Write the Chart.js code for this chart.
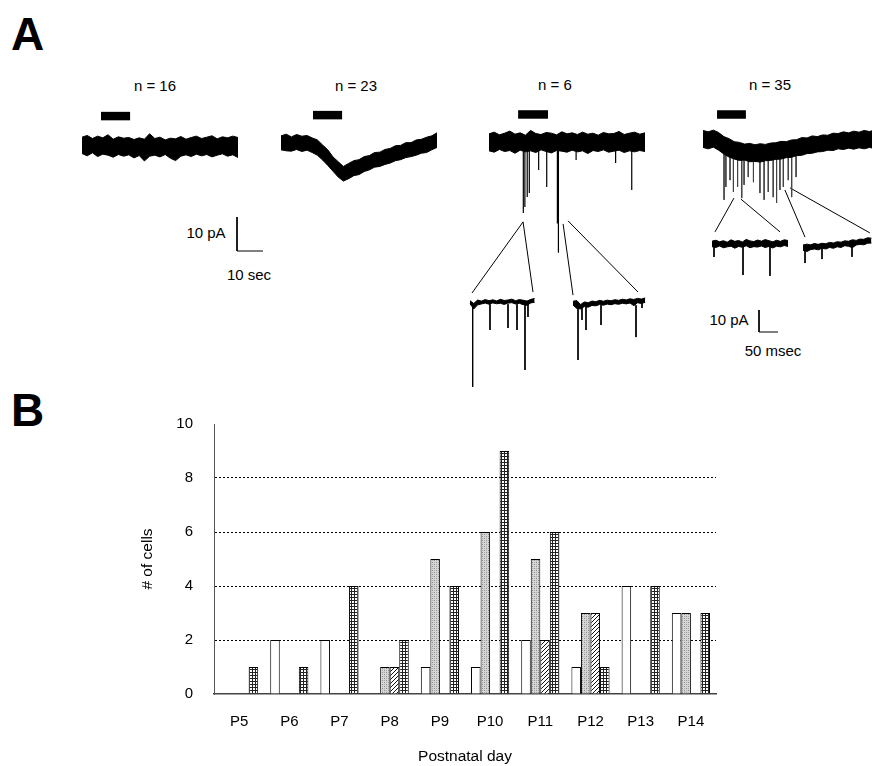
<!DOCTYPE html>
<html>
<head>
<meta charset="utf-8">
<script src="https://cdn.jsdelivr.net/npm/chart.js@4.4.1/dist/chart.umd.min.js"></script>
<style>
  html, body { margin: 0; padding: 0; background: #fff; }
  body { width: 872px; height: 766px; position: relative; overflow: hidden;
         font-family: "Liberation Sans", Arial, sans-serif; color: #000; }
  canvas { position: absolute; left: 0; }
  #traces { top: 0; }
  #counts { top: 390px; }
  .lbl { position: absolute; transform: translate(-50%, -50%); font-size: 15px; font-weight: normal; line-height: 1; white-space: nowrap; }
  .panel { position: absolute; font-weight: bold; font-size: 46px; line-height: 1; }
</style>
</head>
<body>
<div class="panel" style="left:11px;top:11px">A</div>
<div class="panel" style="left:11px;top:387px">B</div>
<div class="lbl" style="left:155px;top:85px">n = 16</div>
<div class="lbl" style="left:356px;top:85px">n = 23</div>
<div class="lbl" style="left:555px;top:84px">n = 6</div>
<div class="lbl" style="left:770px;top:84px">n = 35</div>
<div class="lbl" style="left:206px;top:232px">10 pA</div>
<div class="lbl" style="left:249px;top:274px">10 sec</div>
<div class="lbl" style="left:729px;top:319px">10 pA</div>
<div class="lbl" style="left:773px;top:350px">50 msec</div>
<canvas id="traces" width="872" height="392"></canvas>
<canvas id="counts" width="872" height="376"></canvas>
<script>
// ---- panel B data: number of cells per postnatal day, by response type ----
var days = ['P5', 'P6', 'P7', 'P8', 'P9', 'P10', 'P11', 'P12', 'P13', 'P14'];
var noResponse = [0, 2, 2, 0, 1, 1, 2, 1, 4, 3];   // n = 16
var slowCurrent = [0, 0, 0, 1, 5, 6, 5, 3, 0, 3];  // n = 23
var eventsOnly = [0, 0, 0, 1, 0, 0, 2, 3, 0, 0];   // n = 6
var bothTypes = [1, 1, 4, 2, 4, 9, 6, 1, 4, 3];    // n = 35
var yTicks = [0, 2, 4, 6, 8, 10];

// ---- panel A data: currents in pA, time in s (main) or ms (insets) ----
var t60 = [0, 2, 4, 6, 8, 10, 12, 14, 16, 18, 20, 22, 24, 26, 28, 30, 32, 34, 36, 38, 40, 42, 44, 46, 48, 50, 52, 54, 56, 58, 60];
var t66 = [0, 2, 4, 6, 8, 10, 12, 14, 16, 18, 20, 22, 24, 26, 28, 30, 32, 34, 36, 38, 40, 42, 44, 46, 48, 50, 52, 54, 56, 58, 60, 62, 64, 66];

var noneUpper = [2.6, 3.1, 2.2, 2.9, 2.4, 3.3, 2.0, 2.7, 2.3, 2.5, 1.9, 2.4, 2.0, 3.6, 2.2, 2.6, 1.8, 2.3, 2.1, 2.8, 2.0, 2.5, 2.9, 2.2, 2.6, 3.0, 2.1, 2.7, 2.4, 2.9, 2.5];
var noneLower = [-2.2, -2.9, -2.0, -3.1, -2.4, -2.7, -3.3, -2.5, -3.0, -2.6, -3.5, -2.8, -4.4, -3.0, -2.7, -3.2, -2.5, -3.6, -4.3, -3.0, -2.6, -3.1, -2.4, -2.9, -2.5, -3.2, -2.7, -2.3, -3.0, -2.6, -3.4];

var slowUpper = [2.1, 2.6, 1.8, 2.5, 2.0, 2.2, 1.5, 0.9, -0.6, -2.0, -4.1, -5.5, -6.9, -6.0, -5.2, -4.9, -4.0, -3.7, -2.8, -2.7, -1.9, -1.6, -0.8, -0.7, 0.1, 0.1, 0.9, 1.1, 1.7, 2.1, 3.0];
var slowLower = [-2.0, -2.3, -2.4, -1.9, -2.5, -2.1, -2.8, -3.6, -5.0, -6.6, -8.3, -10.0, -11.2, -10.5, -9.6, -9.3, -8.4, -7.9, -7.1, -6.9, -6.3, -5.9, -5.2, -4.9, -4.3, -4.0, -3.6, -3.0, -2.8, -2.0, -1.3];

var eventsUpper = [2.4, 2.9, 2.1, 2.6, 3.2, 2.3, 2.7, 2.0, 3.4, 2.5, 2.2, 2.8, 2.6, 2.1, 3.0, 2.4, 2.7, 2.2, 2.9, 2.3, 2.6, 2.0, 2.8, 2.4, 2.5, 3.1, 2.2, 2.6, 2.9, 2.3, 2.7];
var eventsLower = [-2.6, -3.0, -2.2, -2.8, -2.5, -3.3, -2.4, -2.9, -2.6, -3.1, -2.3, -2.8, -3.2, -2.5, -2.7, -3.0, -2.4, -2.9, -2.6, -3.4, -2.5, -2.8, -2.3, -3.0, -2.7, -2.4, -3.1, -2.6, -2.9, -2.5, -2.8];
// [time s, from pA, peak pA]
var eventsSpikes = [[13.2, -2.5, -20.9], [13.8, -2.5, -19.1], [14.7, -2.5, -16.2], [15.5, -2.5, -15.0], [19.1, -2.5, -8.2],
  [22.2, -2.5, -13.2], [26.3, -2.5, -24.0], [26.7, -2.5, -32.6], [33.5, -2.5, -5.3], [48.7, -2.5, -6.2], [54.9, -2.5, -14.1]];

var bothUpper = [2.8, 2.4, 2.9, 2.2, 1.0, 0.4, -0.5, -0.7, -1.2, -1.0, -1.4, -1.1, -1.3, -0.9, -0.8, -0.4, -0.5, 0.0, 0.1, 0.7, 0.6, 1.2, 1.0, 1.5, 1.4, 2.0, 1.9, 2.4, 2.1, 2.6, 2.3, 2.8, 2.5, 2.9];
var bothLower = [-2.2, -2.6, -2.1, -3.0, -4.1, -5.0, -5.6, -6.0, -5.9, -6.4, -6.3, -6.5, -6.1, -6.0, -5.7, -5.6, -5.2, -5.1, -4.6, -4.5, -4.0, -3.9, -3.5, -3.4, -3.0, -3.1, -2.6, -2.8, -2.4, -2.7, -2.3, -2.6, -2.2, -2.5];
var bothSpikes = [[8.1, -4, -17.6], [8.8, -4, -13.8], [10.4, -4, -11.8], [11.7, -4, -15.3], [13.3, -4, -13.8], [14.9, -4, -17.1],
  [15.8, -4, -13.2], [17.4, -4, -10.9], [19.4, -4, -12.4], [21.9, -4, -15.6], [23.5, -4, -17.6], [25.1, -4, -15.3],
  [27.0, -4, -16.8], [28.3, -4, -18.5], [29.6, -4, -14.7], [30.9, -4, -13.8], [32.8, -4, -11.8], [34.1, -4, -16.8], [35.8, -4, -10.9]];

// insets, ms
var i1Time = [0, 10, 20, 30, 40, 50, 60, 70, 80, 90, 100, 110, 120, 130, 140, 150, 160, 170];
var i1Upper = [0.6, -0.7, 0.9, 0.4, 1.1, 0.6, 1.0, 0.5, 1.2, 0.7, 0.9, 1.3, 0.6, 1.1, 0.8, 0.4, 1.2, 1.6];
var i1Lower = [-0.8, -3.2, -1.3, -0.9, -0.5, -1.0, -0.4, -0.8, -0.6, -1.1, -0.5, -0.3, -0.9, -0.6, -1.2, -1.5, -0.4, -0.1];
var i1Spikes = [[7, -1, -38.6], [52.6, -1, -12.7], [100, -1, -11.8], [123.7, -1, -12.7], [144.7, -1, -30.9], [152.6, -1, -6.8]];

var i2Time = [0, 10, 20, 30, 40, 50, 60, 70, 80, 90, 100, 110, 120, 130, 140, 150, 160, 170, 180, 190];
var i2Upper = [0.8, 1.1, -0.7, 0.5, 0.1, 0.9, 0.6, 1.2, 0.8, 1.3, 1.0, 1.5, 1.2, 1.7, 1.4, 1.9, 1.6, 2.1, 1.8, 2.3];
var i2Lower = [-0.9, -2.5, -2.7, -1.6, -1.9, -1.1, -1.3, -0.7, -1.0, -0.5, -0.8, -0.3, -0.6, -0.1, -0.4, 0.0, -1.2, 0.1, -0.2, 0.3];
var i2Spikes = [[13.2, -1, -25.9], [23.7, -1, -7.7], [34.2, -1, -12.3], [73.7, -1, -10], [165.8, -1, -15.5], [181.6, 0, -2.3]];

var i3Time = [0, 10, 20, 30, 40, 50, 60, 70, 80, 90, 100, 110, 120, 130, 140, 150, 160, 170, 180, 190, 200];
var i3Upper = [1.3, 1.7, 1.0, 1.5, 0.8, 1.9, 1.2, 1.6, 0.9, 2.1, 1.4, 1.1, 1.8, 1.3, 2.0, 1.5, 1.0, 1.7, 1.2, 1.9, 1.6];
var i3Lower = [-1.2, -1.6, -0.9, -1.7, -1.3, -1.0, -1.9, -1.1, -1.5, -0.8, -1.7, -1.2, -1.4, -0.9, -1.6, -1.1, -1.8, -1.0, -1.3, -0.7, -1.1];
var i3Spikes = [[5.3, -1, -5.9], [81.6, -1, -14.1], [152.6, -1, -14.5]];

var i4Time = [0, 10, 20, 30, 40, 50, 60, 70, 80, 90, 100, 110, 120, 130, 140, 150, 160, 170, 180];
var i4Upper = [0.9, 1.3, 1.0, 1.6, 1.2, 1.7, 1.5, 2.1, 1.8, 2.4, 2.2, 2.8, 2.6, 3.3, 3.0, 3.6, 3.5, 4.2, 4.0];
var i4Lower = [-1.5, -2.1, -1.2, -0.9, -1.3, -0.6, -0.9, -0.2, -0.6, 0.1, -0.2, 0.6, 0.3, -0.3, 0.9, 1.2, 1.0, 1.7, 1.8];
var i4Spikes = [[5.3, -1, -7.3], [50, -0.5, -5.5], [129, 0.5, -4.5]];

// drug application bars [on s, off s]
var stimOn = [7.3, 12.3, 11.2, 5.4];
var stimOff = [18.5, 23.5, 22.7, 16.5];

// ---- layout of panel A: origin in px and px per unit for each trace ----
var slow = { sx: 2.6, sy: 3.4 }, fast = { sx: 0.38, sy: 2.2 };
var rows = [
  { x0: 82, y0: 146, lvl: 8.8 },
  { x0: 281, y0: 143, lvl: 8.2 },
  { x0: 489, y0: 142, lvl: 8.1 },
  { x0: 703, y0: 140, lvl: 7.5 }
];
var insets = [{ x0: 470, y0: 302 }, { x0: 573, y0: 303 }, { x0: 712, y0: 244 }, { x0: 803, y0: 247 }];

function at(p, s, t, v) { return { x: p.x0 + t * s.sx, y: p.y0 - v * s.sy }; }
function pts(p, s, times, vals) { return times.map(function(t, i) { return at(p, s, t, vals[i]); }); }
function spikePts(p, s, list) {
  var out = [];
  list.forEach(function(k) {
    out.push(at(p, s, k[0], k[1]), at(p, s, k[0], k[2]), { x: p.x0 + k[0] * s.sx, y: null });
  });
  return out;
}
function line(data, extra) {
  var ds = { data: data, borderColor: '#000', borderWidth: 1, pointRadius: 0, tension: 0, fill: false, spanGaps: false };
  for (var k in extra) ds[k] = extra[k];
  return ds;
}
function band(p, s, times, up, lo) {
  return [line(pts(p, s, times, up)), line(pts(p, s, times, lo), { fill: '-1', backgroundColor: '#000' })];
}

var traceSets = [];
traceSets = traceSets.concat(band(rows[0], slow, t60, noneUpper, noneLower));
traceSets = traceSets.concat(band(rows[1], slow, t60, slowUpper, slowLower));
traceSets = traceSets.concat(band(rows[2], slow, t60, eventsUpper, eventsLower));
traceSets = traceSets.concat(band(rows[3], slow, t66, bothUpper, bothLower));
traceSets = traceSets.concat(band(insets[0], fast, i1Time, i1Upper, i1Lower));
traceSets = traceSets.concat(band(insets[1], fast, i2Time, i2Upper, i2Lower));
traceSets = traceSets.concat(band(insets[2], fast, i3Time, i3Upper, i3Lower));
traceSets = traceSets.concat(band(insets[3], fast, i4Time, i4Upper, i4Lower));
traceSets.push(line(spikePts(rows[2], slow, eventsSpikes), { borderWidth: 1.2 }));
traceSets.push(line(spikePts(rows[3], slow, bothSpikes), { borderColor: '#444' }));
traceSets.push(line(spikePts(insets[0], fast, i1Spikes)));
traceSets.push(line(spikePts(insets[1], fast, i2Spikes)));
traceSets.push(line(spikePts(insets[2], fast, i3Spikes)));
traceSets.push(line(spikePts(insets[3], fast, i4Spikes)));

// application bars
rows.forEach(function(r, i) {
  traceSets.push(line([at(r, slow, stimOn[i], r.lvl), at(r, slow, stimOff[i], r.lvl)], { borderWidth: 8.5, borderCapStyle: 'butt' }));
});

// scale bars: 10 pA / 10 sec and 10 pA / 50 msec
traceSets.push(line([at({ x0: 237, y0: 251 }, slow, 0, 10), at({ x0: 237, y0: 251 }, slow, 0, 0), at({ x0: 237, y0: 251 }, slow, 10, 0)]));
traceSets.push(line([at({ x0: 759, y0: 332 }, fast, 0, 10), at({ x0: 759, y0: 332 }, fast, 0, 0), at({ x0: 759, y0: 332 }, fast, 50, 0)]));

// connector lines from the slow trace to the expanded insets
var links = [
  [2, 13.1, -23.5, 0, 5.3, 4.1], [2, 13.1, -23.5, 0, 165.8, 4.5],
  [2, 28.5, -24.1, 1, 0, 3.6], [2, 30.4, -23.2, 1, 171, 5],
  [3, 11.9, -17.1, 2, 7.9, 5.5], [3, 14.6, -17.4, 2, 179, 5.5],
  [3, 31.5, -14.7, 3, 5.3, 4.5], [3, 33.5, -14.1, 3, 176, 6.4]
];
links.forEach(function(l) {
  traceSets.push(line([at(rows[l[0]], slow, l[1], l[2]), at(insets[l[3]], fast, l[4], l[5])]));
});

new Chart(document.getElementById('traces'), {
  type: 'line',
  data: { datasets: traceSets },
  options: {
    responsive: false,
    animation: false,
    events: [],
    layout: { padding: 0 },
    plugins: { legend: { display: false }, tooltip: { enabled: false } },
    scales: {
      x: { type: 'linear', min: 0, max: 872, display: false },
      y: { type: 'linear', min: 0, max: 392, reverse: true, display: false }
    }
  }
});

// ---- panel B ----
function tile(size, draw) {
  var c = document.createElement('canvas');
  c.width = size; c.height = size;
  var g = c.getContext('2d');
  draw(g);
  return g.createPattern(c, 'repeat');
}
var stipple = tile(4, function(g) {
  g.fillStyle = '#d6d6d6'; g.fillRect(0, 0, 4, 4);
  g.fillStyle = '#8c8c8c'; g.fillRect(0, 0, 1, 1); g.fillRect(2, 2, 1, 1);
  g.fillStyle = '#ababab'; g.fillRect(2, 0, 1, 1); g.fillRect(0, 2, 1, 1);
});
var hatch = tile(4, function(g) {
  g.fillStyle = '#fff'; g.fillRect(0, 0, 4, 4);
  g.strokeStyle = '#111'; g.lineWidth = 1;
  g.beginPath(); g.moveTo(-1, 5); g.lineTo(5, -1); g.stroke();
});
var grid = tile(3, function(g) {
  g.fillStyle = '#fff'; g.fillRect(0, 0, 3, 3);
  g.fillStyle = '#222'; g.fillRect(0, 0, 3, 1); g.fillRect(0, 0, 1, 3);
});

var font = { family: '"Liberation Sans", Arial, sans-serif', size: 15 };
function series(label, values, fill) {
  return { label: label, data: values, backgroundColor: fill, borderColor: '#000', borderWidth: 1,
           barPercentage: 1.0, categoryPercentage: 0.76 };
}

new Chart(document.getElementById('counts'), {
  type: 'bar',
  data: {
    labels: days,
    datasets: [
      series('no response', noResponse, '#fff'),
      series('slow current', slowCurrent, stipple),
      series('events', eventsOnly, hatch),
      series('both', bothTypes, grid)
    ]
  },
  options: {
    responsive: false,
    animation: false,
    events: [],
    layout: { padding: { left: 134, right: 156, top: 34, bottom: 0 } },
    plugins: { legend: { display: false }, tooltip: { enabled: false } },
    scales: {
      x: {
        grid: { display: false },
        border: { display: true, color: '#444', width: 1.5 },
        ticks: { color: '#000', font: font, padding: 11, maxRotation: 0 },
        title: { display: true, text: 'Postnatal day', color: '#000', font: { family: font.family, size: 15.5 }, padding: { top: 4, bottom: 0 } },
        afterFit: function(s) { s.height = 72; }
      },
      y: {
        min: 0, max: 10,
        afterBuildTicks: function(s) { s.ticks = yTicks.map(function(v) { return { value: v }; }); },
        grid: {
          drawTicks: false,
          color: function(c) { var v = c.tick && c.tick.value; return (v > 0 && v < 10) ? '#000' : 'rgba(0,0,0,0)'; },
          lineWidth: 1
        },
        border: { display: true, color: '#555', width: 1, dash: [2, 2] },
        ticks: { color: '#000', font: font, padding: 21 },
        title: { display: true, text: '# of cells', color: '#000', font: { family: font.family, size: 15.5 }, padding: { top: 4, bottom: 4 } },
        afterFit: function(s) { s.width = 80; }
      }
    }
  }
});
</script>
</body>
</html>
